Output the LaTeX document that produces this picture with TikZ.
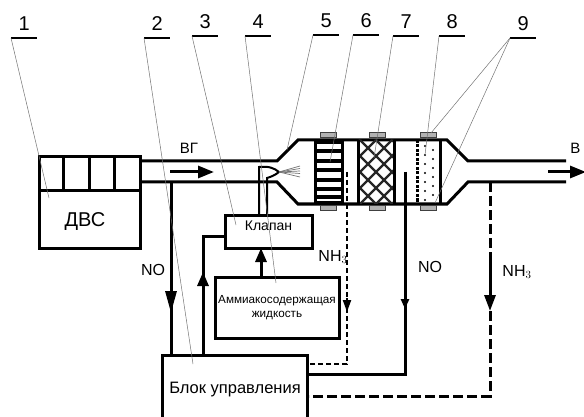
\documentclass[tikz,border=0pt]{standalone}
\usepackage{fontspec}
\setmainfont{Liberation Sans}
\usepackage{xcolor}
\usetikzlibrary{arrows.meta}

\tikzset{
  wall/.style={line width=3pt, line join=miter},
  flow/.style={line width=3pt},
  thinflow/.style={line width=2pt},
  dashflow/.style={line width=2pt, dash pattern=on 5pt off 3pt},
  headflow/.style={-{Triangle[length=#1, width=11pt]}},
  unit/.style={draw, line width=3pt, inner sep=0pt, align=center},
  tag/.style={minimum width=26pt, minimum height=28pt, inner sep=0pt, anchor=south west, font=\fontsize{20}{20}\selectfont},
  leader/.style={line width=0.5pt, black!55},
  clamp/.style={draw=black!75, fill=black!30, line width=1pt, minimum width=16pt, minimum height=5pt, inner sep=0pt}
}

\begin{document}
\begin{tikzpicture}[x=1pt, y=-1pt]
\useasboundingbox (0,0) rectangle (584,417);

% engine
\node[unit, minimum width=101pt, minimum height=34pt, anchor=north west] (cyl) at (38,155.5) {};
\node[unit, minimum width=101pt, minimum height=57pt, anchor=north west] (engine) at (38,189.5) {};
\node[font=\fontsize{20}{20}\selectfont] (engtext) at (85,222) {ДВС};
\foreach \x in {63,89,114}
  \draw[wall] (\x,155.5) -- (\x,189.5);

% pipe and housing
\draw[wall] (cyl.east |- 0,161) -- (277,161) -- (298,140) -- (447,140) -- (468,161) -- (566,161);
\draw[wall] (cyl.east |- 0,182) -- (277,182) -- (298,204) -- (447,204) -- (468,182) -- (566,182);
\node[font=\fontsize{15}{15}\selectfont] (gas) at (189,148) {ВГ};
\node[font=\fontsize{15}{15}\selectfont, anchor=east] (gasout) at (584,148) {В};
\coordinate (inA) at (170,172);
\coordinate (inB) at (214,172);
\coordinate (outA) at (548,172);
\coordinate (outB) at (586,172);
\draw[flow, -{Triangle[length=16pt, width=12pt]}] (inA) -- (inB);
\draw[flow, -{Triangle[length=16pt, width=12pt]}] (outA) -- (outB);

% block 6
\foreach \y in {142,151.5,161,170.5,180,189,197,203}
  \draw[line width=4pt] (315,\y) -- (342,\y);
\draw[wall] (315,140) -- (315,204);
\draw[wall] (342,140) -- (342,204);

% block 7
\begin{scope}
\clip (358,140) rectangle (394,204);
\foreach \k in {-8,...,8}{
  \draw[line width=2.4pt, black!85] (376+\k*16,140) -- ++(64,64);
  \draw[line width=2.4pt, black!85] (376+\k*16,140) -- ++(-64,64);
}
\end{scope}
\draw[wall] (358,140) -- (358,204);
\draw[wall] (394,140) -- (394,204);

% block 8
\draw[wall, dash pattern=on 3pt off 1.5pt] (417,140) -- (417,204);
\draw[wall] (440,140) -- (440,204);
\foreach \y in {146,155,164,173,182,191,200}{
  \fill (425,\y) circle (1.1pt);
  \fill (433,\y+4) circle (1.1pt);
}

% clamps
\foreach \x in {328,377,428}{
  \node[clamp] (top\x) at (\x,135.5) {};
  \node[clamp] (bot\x) at (\x,208) {};
}

% boxes
\node[unit, minimum width=87pt, minimum height=33pt, anchor=north west, font=\fontsize{14}{14}\selectfont, text depth=12pt] (valve) at (223.5,214) {Клапан};
\node[unit, minimum width=124pt, minimum height=61pt, anchor=north west, font=\fontsize{11.7}{14}\selectfont] (liquid) at (213.5,276) {Аммиакосодержащая\\жидкость};
\node[unit, minimum width=145pt, minimum height=72pt, anchor=north west, font=\fontsize{16.5}{16.5}\selectfont, text depth=7pt] (ctrl) at (161,354) {Блок управления};

% injector
\coordinate (injL) at (259,167);
\coordinate (injR) at (267,178);
\coordinate (tip) at (279,172);
\draw[line width=2pt] (injL |- valve.north) -- (injL) .. controls (269,166) and (274,168) .. (tip) .. controls (274,176) and (270,177) .. (injR) -- (injR |- valve.north);
\foreach \y in {166,168.5,171,173.5,177}
  \draw[line width=0.7pt, black!55] (tip) -- (300,\y);

% connectors
\coordinate (noA) at (171,182);
\coordinate (noHead) at (171,313);
\draw[flow] (noA) -- (noA |- ctrl.north);
\draw[flow, headflow=22pt] (noA) -- (noHead);
\node[font=\fontsize{16}{16}\selectfont] (notext) at (153,270) {NO};

\coordinate (ctrlUp) at (203,236);
\coordinate (ctrlHead) at (203,272);
\draw[flow] (ctrlUp |- ctrl.north) -- (ctrlUp) -- (ctrlUp -| valve.west);
\draw[flow, headflow=14pt] (ctrlUp |- ctrl.north) -- (ctrlHead);

\coordinate (liqHead) at (261,248);
\draw[flow, headflow=14pt] (liqHead |- liquid.north) -- (liqHead);

\coordinate (nhA) at (347,172);
\coordinate (nhB) at (347,364);
\coordinate (nhHead) at (347,312);
\draw[dashflow] (nhA) -- (nhB) -- (nhB -| ctrl.east);
\draw[thinflow, -{Triangle[length=12pt, width=8pt]}] (347,298) -- (nhHead);
\node[font=\fontsize{16}{16}\selectfont] (nhtext) at (333,257) {NH$_3$};

\coordinate (noB) at (405,172);
\coordinate (noC) at (405,374);
\coordinate (noBHead) at (405,309);
\draw[flow] (noB) -- (noC) -- (noC -| ctrl.east);
\draw[flow, -{Triangle[length=10pt, width=8pt]}] (noB) -- (noBHead);
\node[font=\fontsize{16}{16}\selectfont] (nobtext) at (430,267) {NO};

\coordinate (nhC) at (490,182);
\coordinate (nhD) at (490,396);
\coordinate (nhCsolid) at (490,259);
\coordinate (nhCHead) at (490,311);
\draw[flow, dash pattern=on 10pt off 4pt] (nhC) -- (nhCsolid);
\draw[flow, -{Triangle[length=16pt, width=11pt]}] (nhCsolid) -- (nhCHead);
\draw[flow, dash pattern=on 10pt off 4pt] (nhCHead) -- (nhD) -- (nhD -| ctrl.east);
\node[font=\fontsize{16}{16}\selectfont] (nhctext) at (517,272) {NH$_3$};

% leaders
\foreach \nm/\x/\y in {1/11/38, 2/144/38, 3/192/36, 4/245/36, 5/313/35, 6/353/35, 7/393/36, 8/439/36, 9/510/38}{
  \node[tag] (t\nm) at (\x,\y) {\nm};
  \draw[line width=2pt] (t\nm.south west) -- (t\nm.south east);
}
\coordinate (e1) at (49,198);
\coordinate (e2) at (193,364);
\coordinate (e3) at (236,225);
\coordinate (e4) at (276,283);
\coordinate (e5) at (287,150);
\coordinate (e6) at (330,162);
\coordinate (e7) at (374,158);
\coordinate (e8) at (425,155);
\coordinate (e9a) at (431,133);
\coordinate (e9b) at (435,203);
\foreach \nm in {1,...,8}
  \draw[leader] (t\nm.south west) -- (e\nm);
\draw[leader] (t9.south west) -- (e9a);
\draw[leader] (t9.south west) -- (e9b);
\end{tikzpicture}
\end{document}
